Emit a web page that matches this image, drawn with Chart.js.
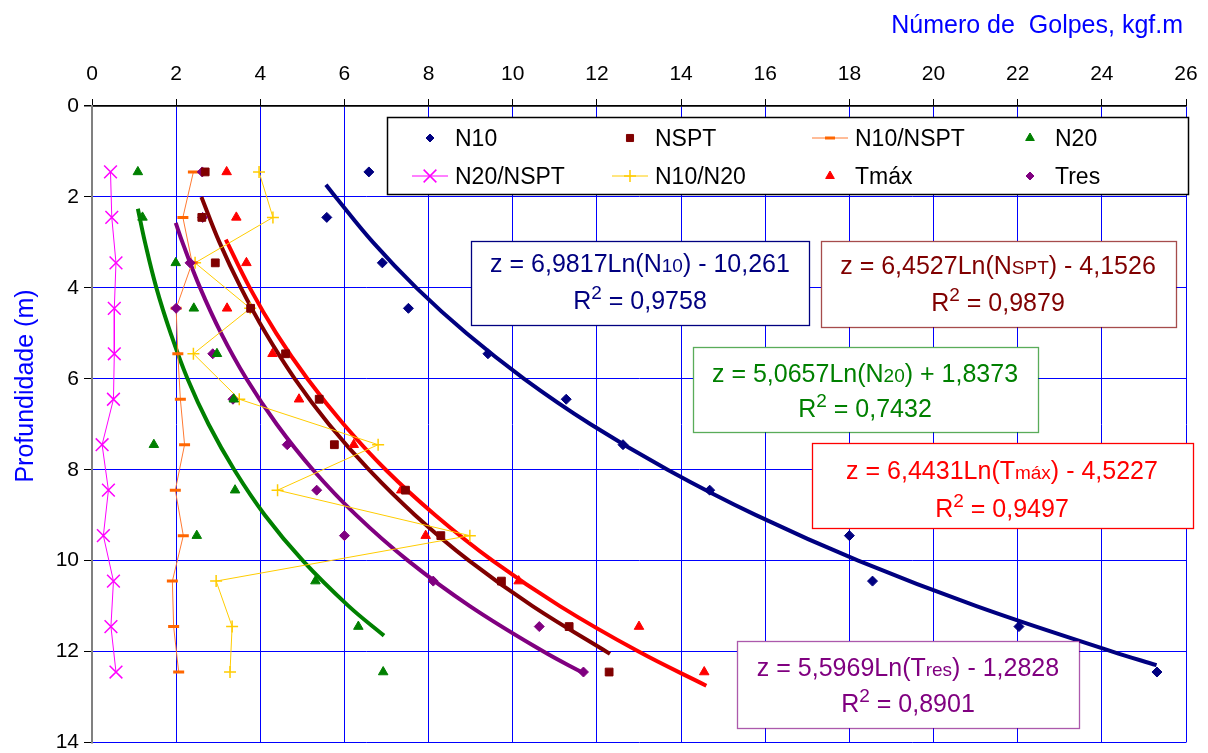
<!DOCTYPE html>
<html>
<head>
    <title>Profundidade x Número de Golpes</title>
    <style>
        body {
            margin: 0;
            background: #FFFFFF;
        }
        #chart {
            display: block;
        }
    </style>
    <script src="https://cdn.jsdelivr.net/npm/chart.js"></script>
</head>
<body>
    <canvas id="chart" width="1208" height="753"></canvas>
    <script>
        // depth of each test (m)
        const depths = [1.45, 2.45, 3.45, 4.45, 5.45, 6.45, 7.45, 8.45, 9.45, 10.45, 11.45, 12.45];

        // values
        const n10 = [6.58, 5.58, 6.9, 7.52, 9.41, 11.27, 12.62, 14.68, 18.0, 18.55, 22.03, 25.31];
        const nspt = [2.69, 2.61, 2.93, 3.77, 4.6, 5.4, 5.76, 7.45, 8.29, 9.73, 11.34, 12.29];
        const n10nspt = [2.41, 2.16, 2.38, 2.0, 2.04, 2.1, 2.2, 1.98, 2.17, 1.91, 1.94, 2.06];
        const n20 = [1.09, 1.2, 1.99, 2.42, 2.97, 3.37, 1.47, 3.4, 2.49, 5.31, 6.33, 6.92];
        const n20nspt = [0.44, 0.47, 0.57, 0.53, 0.53, 0.51, 0.24, 0.39, 0.27, 0.51, 0.45, 0.57];
        const n10n20 = [3.97, 4.3, 2.45, 3.76, 2.41, 3.5, 6.8, 4.41, 8.98, 2.95, 3.33, 3.28];
        const tmax = [3.2, 3.43, 3.67, 3.21, 4.29, 4.92, 6.22, 7.35, 7.93, 10.14, 13.0, 14.55];
        const tres = [2.62, 2.63, 2.33, 2.0, 2.87, 3.35, 4.64, 5.34, 6.0, 8.11, 10.63, 11.68];

        // trend curves: [golpes, depth]
        const trendN10 = [[5.56, 1.73], [5.79, 2], [6.68, 3], [7.71, 4], [8.9, 5], [10.27, 6], [11.85, 7], [13.68, 8], [15.78, 9], [18.21, 10], [21.02, 11], [24.25, 12], [25.3, 12.3]];
        const trendNspt = [[2.6, 2.0], [3.03, 3], [3.54, 4], [4.13, 5], [4.82, 6], [5.63, 7], [6.58, 8], [7.68, 9], [8.96, 10], [10.47, 11], [12.31, 12.05]];
        const trendTmax = [[3.18, 2.94], [3.75, 4], [4.38, 5], [5.12, 6], [5.98, 7], [6.98, 8], [8.16, 9], [9.52, 10], [11.12, 11], [12.99, 12], [14.6, 12.75]];
        const trendN20 = [[1.09, 2.26], [1.26, 3], [1.53, 4], [1.87, 5], [2.27, 6], [2.77, 7], [3.38, 8], [4.11, 9], [5.01, 10], [6.1, 11], [6.94, 11.65]];
        const trendTres = [[1.99, 2.57], [2.15, 3], [2.57, 4], [3.07, 5], [3.67, 6], [4.39, 7], [5.25, 8], [6.28, 9], [7.51, 10], [8.98, 11], [10.73, 12], [11.67, 12.47]];

        const xTicks = [0, 2, 4, 6, 8, 10, 12, 14, 16, 18, 20, 22, 24, 26];
        const yTicks = [0, 2, 4, 6, 8, 10, 12, 14];

        const FONT = "'Liberation Sans', Arial, sans-serif";

        function pts(values) {
            return values.map((v, i) => ({ x: v, y: depths[i] }));
        }
        function curve(arr) {
            return arr.map(p => ({ x: p[0], y: p[1] }));
        }

        function markers(label, values, color, style, radius) {
            return {
                label: label,
                data: pts(values),
                showLine: false,
                pointStyle: style,
                pointRadius: radius,
                pointBackgroundColor: color,
                pointBorderColor: color,
                pointBorderWidth: 1,
                order: 1
            };
        }
        function linedMarkers(label, values, lineColor, color, style, radius, bw) {
            return {
                label: label,
                data: pts(values),
                showLine: true,
                borderColor: lineColor,
                borderWidth: 1,
                tension: 0,
                pointStyle: style,
                pointRadius: radius,
                pointBackgroundColor: color,
                pointBorderColor: color,
                pointBorderWidth: bw,
                order: 2
            };
        }
        function trend(arr, color) {
            return {
                label: 'trend',
                data: curve(arr),
                showLine: true,
                borderColor: color,
                borderWidth: 4,
                tension: 0.4,
                pointRadius: 0,
                order: 5
            };
        }

        const datasets = [
            markers('N10', n10, '#000080', 'rectRot', 5),
            markers('NSPT', nspt, '#800000', 'rect', 5.5),
            linedMarkers('N10/NSPT', n10nspt, '#ff7a33', '#ff6600', 'line', 5.5, 3),
            markers('N20', n20, '#008000', 'triangle', 5.5),
            linedMarkers('N20/NSPT', n20nspt, '#ff00ff', '#ff00ff', 'crossRot', 9, 1.5),
            linedMarkers('N10/N20', n10n20, '#ffcc00', '#ffcc00', 'cross', 6, 1.5),
            markers('Tmáx', tmax, '#ff0000', 'triangle', 5.5),
            markers('Tres', tres, '#800080', 'rectRot', 5),
            trend(trendN10, '#000080'),
            trend(trendNspt, '#800000'),
            trend(trendTmax, '#ff0000'),
            trend(trendN20, '#008000'),
            trend(trendTres, '#800080')
        ];

        const legendItems = [
            { t: 'N10', c: '#000080', s: 'rectRot', r: 4, line: null, col: 0, row: 0 },
            { t: 'NSPT', c: '#800000', s: 'rect', r: 5, line: null, col: 1, row: 0 },
            { t: 'N10/NSPT', c: '#ff6600', s: 'line', r: 5, bw: 3, line: '#ff7a33', col: 2, row: 0 },
            { t: 'N20', c: '#008000', s: 'triangle', r: 5, line: null, col: 3, row: 0 },
            { t: 'N20/NSPT', c: '#ff00ff', s: 'crossRot', r: 9, bw: 1.5, line: '#ff00ff', col: 0, row: 1 },
            { t: 'N10/N20', c: '#ffcc00', s: 'cross', r: 6, bw: 1.5, line: '#ffcc00', col: 1, row: 1 },
            { t: 'Tmáx', c: '#ff0000', s: 'triangle', r: 5, line: null, col: 2, row: 1 },
            { t: 'Tres', c: '#800080', s: 'rectRot', r: 4, line: null, col: 3, row: 1 }
        ];

        const eqBoxes = [
            { box: [471, 241, 809, 325], color: '#000080', border: '#000080', cx: 640, y1: 263, y2: 300,
              eq: [['z = 6,9817Ln(N', 0], ['10', 1], [') - 10,261', 0]], r2: '0,9758' },
            { box: [821, 241, 1176, 327], color: '#800000', border: 'rgba(128,0,0,0.7)', cx: 998, y1: 265, y2: 302,
              eq: [['z = 6,4527Ln(N', 0], ['SPT', 1], [') - 4,1526', 0]], r2: '0,9879' },
            { box: [693, 347, 1038, 432], color: '#008000', border: 'rgba(0,128,0,0.65)', cx: 865, y1: 373, y2: 408,
              eq: [['z = 5,0657Ln(N', 0], ['20', 1], [') + 1,8373', 0]], r2: '0,7432' },
            { box: [812, 443, 1193, 528], color: '#ff0000', border: '#ff0000', cx: 1002, y1: 470, y2: 508,
              eq: [['z = 6,4431Ln(T', 0], ['máx', 1], [') - 4,5227', 0]], r2: '0,9497' },
            { box: [737, 641, 1079, 728], color: '#800080', border: 'rgba(128,0,128,0.65)', cx: 908, y1: 667, y2: 703,
              eq: [['z = 5,5969Ln(T', 0], ['res', 1], [') - 1,2828', 0]], r2: '0,8901' }
        ];

        function drawParts(ctx, parts, cx, cy) {
            const big = '25px ' + FONT, small = '19px ' + FONT;
            let w = 0;
            parts.forEach(p => {
                ctx.font = p[1] ? small : big;
                w += ctx.measureText(p[0]).width;
            });
            let x = cx - w / 2;
            parts.forEach(p => {
                ctx.font = p[1] ? small : big;
                const dy = p[1] === 2 ? -10 : 0;
                ctx.fillText(p[0], x, cy + 9 + dy);
                x += ctx.measureText(p[0]).width;
            });
        }

        const overlay = {
            id: 'overlay',
            afterDraw(chart) {
                const ctx = chart.ctx;
                ctx.save();
                ctx.textAlign = 'left';
                ctx.textBaseline = 'alphabetic';

                // legend
                ctx.fillStyle = '#ffffff';
                ctx.fillRect(387, 117, 802, 78);
                ctx.strokeStyle = '#000000';
                ctx.lineWidth = 1.5;
                ctx.strokeRect(387.5, 117.5, 801, 77);
                const colX = [430, 630, 830, 1030];
                const rowY = [138, 176];
                legendItems.forEach(it => {
                    const x = colX[it.col], y = rowY[it.row];
                    if (it.line) {
                        ctx.strokeStyle = it.line;
                        ctx.lineWidth = 1;
                        ctx.beginPath();
                        ctx.moveTo(x - 18, y);
                        ctx.lineTo(x + 18, y);
                        ctx.stroke();
                    }
                    ctx.fillStyle = it.c;
                    ctx.strokeStyle = it.c;
                    ctx.lineWidth = it.bw || 1;
                    Chart.helpers.drawPoint(ctx, { pointStyle: it.s, radius: it.r, borderWidth: it.bw || 1, rotation: 0 }, x, y);
                    ctx.fillStyle = '#000000';
                    ctx.font = '23px ' + FONT;
                    ctx.fillText(it.t, x + 25, y + 8);
                });

                // equation boxes
                eqBoxes.forEach(b => {
                    const [x1, y1, x2, y2] = b.box;
                    ctx.fillStyle = '#ffffff';
                    ctx.fillRect(x1, y1, x2 - x1, y2 - y1);
                    ctx.strokeStyle = b.border;
                    ctx.lineWidth = 1.3;
                    ctx.strokeRect(x1 + 0.5, y1 + 0.5, x2 - x1, y2 - y1);
                    ctx.fillStyle = b.color;
                    drawParts(ctx, b.eq, b.cx, b.y1);
                    drawParts(ctx, [['R', 0], ['2', 2], [' = ' + b.r2, 0]], b.cx, b.y2);
                });

                // axis titles
                ctx.fillStyle = '#0000ff';
                ctx.font = '25px ' + FONT;
                ctx.textAlign = 'right';
                ctx.fillText('Número de  Golpes, kgf.m', 1183, 33);
                ctx.save();
                ctx.translate(33, 386);
                ctx.rotate(-Math.PI / 2);
                ctx.textAlign = 'center';
                ctx.fillText('Profundidade (m)', 0, 0);
                ctx.restore();
                ctx.restore();
            }
        };

        new Chart(document.getElementById('chart'), {
            type: 'scatter',
            data: { datasets: datasets },
            options: {
                responsive: false,
                animation: false,
                layout: { padding: { left: 0, top: 0, right: 22, bottom: 10 } },
                plugins: {
                    legend: { display: false },
                    tooltip: { enabled: false }
                },
                scales: {
                    x: {
                        type: 'linear',
                        position: 'top',
                        min: 0,
                        max: 26,
                        afterBuildTicks: s => { s.ticks = xTicks.map(v => ({ value: v })); },
                        afterFit: s => { s.height = 106; s.paddingLeft = 0; s.paddingRight = 0; },
                        ticks: { color: '#000000', font: { family: FONT, size: 21 }, padding: 12 },
                        grid: {
                            color: c => (c.tick && c.tick.value === 0) ? '#808080' : '#0000ff',
                            lineWidth: 1, tickColor: '#000000', tickLength: 7
                        },
                        border: { color: '#000000', width: 1.5 }
                    },
                    y: {
                        type: 'linear',
                        reverse: true,
                        min: 0,
                        max: 14,
                        afterBuildTicks: s => { s.ticks = yTicks.map(v => ({ value: v })); },
                        afterFit: s => { s.width = 92; s.paddingTop = 0; s.paddingBottom = 0; },
                        ticks: { color: '#000000', font: { family: FONT, size: 21 }, padding: 5 },
                        grid: {
                            color: c => (c.tick && c.tick.value === 0) ? '#000000' : '#0000ff',
                            lineWidth: c => (c.tick && c.tick.value === 0) ? 1.5 : 1,
                            tickColor: '#000000', tickLength: 8
                        },
                        border: { color: '#808080', width: 2 }
                    }
                }
            },
            plugins: [overlay]
        });
    </script>
</body>
</html>
